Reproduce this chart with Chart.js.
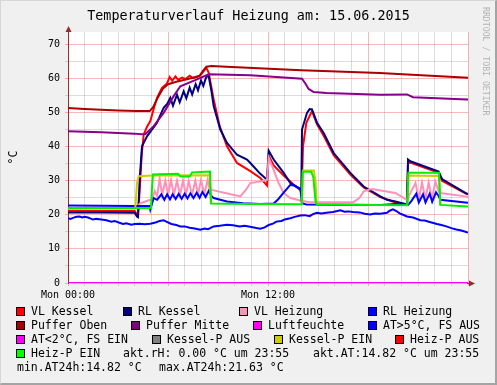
<!DOCTYPE html>
<html><head><meta charset="utf-8">
<script src="https://cdn.jsdelivr.net/npm/chart.js@4.4.1/dist/chart.umd.min.js"></script>
<style>
html,body{margin:0;padding:0;}
body{width:497px;height:385px;overflow:hidden;background:#f0f0f0;position:relative;font-family:"DejaVu Sans Mono",monospace;}
#frame{position:absolute;left:0;top:0;width:497px;height:385px;box-sizing:border-box;border-top:1px solid #d6d6d6;border-left:1px solid #d6d6d6;border-right:2px solid #a4a4a4;border-bottom:2px solid #a4a4a4;pointer-events:none;}
canvas{position:absolute;left:0;top:0;}
.t{position:absolute;font-size:11.5px;line-height:12px;white-space:pre;color:#000;}
.b{position:absolute;width:7px;height:7px;border:1px solid #000;}
#title{position:absolute;left:0;width:497px;top:9px;text-align:center;font-size:13.4px;line-height:14px;white-space:pre;color:#000;}
#credit{position:absolute;left:481px;top:7px;writing-mode:vertical-rl;font-size:8.2px;line-height:9px;color:#b4b4b4;white-space:pre;}
</style>
</head><body>
<canvas id="c" width="497" height="385"></canvas>
<div id="title">Temperaturverlauf Heizung am: 15.06.2015</div>
<div id="credit">RRDTOOL / TOBI OETIKER</div>

<div class="b" style="left:16px;top:307px;background:#ff0000"></div><div class="t" style="left:31px;top:305px">VL Kessel</div>
<div class="b" style="left:123px;top:307px;background:#000080"></div><div class="t" style="left:138px;top:305px">RL Kessel</div>
<div class="b" style="left:239px;top:307px;background:#ff90b8"></div><div class="t" style="left:254px;top:305px">VL Heizung</div>
<div class="b" style="left:368px;top:307px;background:#0000ff"></div><div class="t" style="left:383px;top:305px">RL Heizung</div>

<div class="b" style="left:16px;top:321px;background:#aa0000"></div><div class="t" style="left:31px;top:319px">Puffer Oben</div>
<div class="b" style="left:131px;top:321px;background:#800080"></div><div class="t" style="left:146px;top:319px">Puffer Mitte</div>
<div class="b" style="left:253px;top:321px;background:#ff00ff"></div><div class="t" style="left:268px;top:319px">Luftfeuchte</div>
<div class="b" style="left:368px;top:321px;background:#0000ff"></div><div class="t" style="left:383px;top:319px">AT&gt;5°C, FS AUS</div>

<div class="b" style="left:16px;top:335px;background:#ff00ff"></div><div class="t" style="left:31px;top:333px">AT&lt;2°C, FS EIN</div>
<div class="b" style="left:152px;top:335px;background:#808080"></div><div class="t" style="left:167px;top:333px">Kessel-P AUS</div>
<div class="b" style="left:274px;top:335px;background:#cccc00"></div><div class="t" style="left:289px;top:333px">Kessel-P EIN</div>
<div class="b" style="left:395px;top:335px;background:#ff0000"></div><div class="t" style="left:410px;top:333px">Heiz-P AUS</div>

<div class="b" style="left:16px;top:349px;background:#00ff00"></div><div class="t" style="left:31px;top:347px">Heiz-P EIN</div>
<div class="t" style="left:123px;top:347px">akt.rH: 0.00 °C um 23:55</div>
<div class="t" style="left:313px;top:347px">akt.AT:14.82 °C um 23:55</div>

<div class="t" style="left:17px;top:361px">min.AT24h:14.82 °C</div>
<div class="t" style="left:159px;top:361px">max.AT24h:21.63 °C</div>

<div id="frame"></div>
<script>
// ---- DATA (time in hours of the day, value in °C) ----
const xTickHours = [0, 12];
const xTickLabels = ['Mon 00:00', 'Mon 12:00'];
const yTickValues = [0, 10, 20, 30, 40, 50, 60, 70];

const vlKessel = [[0,21.2],[2,21.1],[4.0,21.1],[4.1,20.4],[4.2,19.9],[4.3,27.0],[4.42,37.5],[4.54,43.5],[4.74,45.8],[4.94,47.5],[5.14,51.0],[5.34,54.3],[5.64,57.2],[5.94,58.5],[6.1,60.4],[6.25,59.3],[6.45,60.6],[6.6,59.6],[6.85,60.2],[7.05,59.8],[7.3,60.8],[7.5,60.1],[7.75,60.4],[7.95,60.9],[8.14,62.1],[8.3,63.1],[8.44,61.7],[8.6,57.5],[8.74,53.8],[9.1,46.0],[9.54,40.1],[10.14,35.2],[10.94,32.8],[11.54,30.8],[11.94,28.6],[12.04,37.4],[12.34,34.5],[12.94,31.5],[13.5,29.0],[13.94,27.2],[14.02,27.0],[14.1,40.0],[14.3,47.0],[14.64,50.4],[14.94,46.5],[15.34,43.2],[15.94,37.5],[16.94,31.8],[17.74,28.0],[18.74,25.2],[19.64,23.6],[20.34,23.0],[20.4,35.0],[20.54,35.3],[22.24,32.3],[22.44,30.0],[23.84,26.3],[24,26.1]];

const rlKessel = [[0,20.7],[2,20.7],[4.0,20.6],[4.14,19.5],[4.2,19.3],[4.3,30.3],[4.44,40.1],[4.74,43.0],[5.34,47.0],[5.74,51.4],[5.95,52.5],[6.14,54.3],[6.3,52.0],[6.54,55.2],[6.7,53.0],[6.94,56.2],[7.1,54.2],[7.3,57.3],[7.45,55.3],[7.66,58.3],[7.8,56.5],[7.98,59.4],[8.12,57.8],[8.3,60.5],[8.44,60.7],[8.6,56.5],[8.74,51.9],[9.14,45.0],[9.54,41.1],[10.14,37.6],[10.74,36.2],[10.94,35.2],[11.54,32.0],[11.94,30.3],[12.04,38.8],[12.34,36.2],[12.94,32.3],[13.34,29.3],[13.94,27.6],[14.0,27.4],[14.04,45.0],[14.34,49.9],[14.5,51.0],[14.64,50.9],[14.94,47.0],[15.34,44.0],[15.94,38.1],[16.94,32.3],[17.74,28.3],[18.74,25.4],[19.14,24.4],[19.64,23.9],[20.34,23.0],[20.4,36.2],[20.54,35.7],[22.24,32.7],[22.44,30.5],[23.84,26.4],[24,26.0]];

const vlHeizung = [[0,21.8],[4.0,21.8],[4.34,23.4],[4.94,24.4],[5.04,24.4],[5.2,27.0],[5.35,25.5],[5.5,30.6],[5.65,25.8],[5.84,30.0],[6.0,25.8],[6.18,30.2],[6.35,25.8],[6.54,30.0],[6.72,25.8],[6.9,30.0],[7.07,25.8],[7.24,30.0],[7.44,25.8],[7.64,30.0],[7.8,25.9],[7.98,30.2],[8.18,26.0],[8.38,30.3],[8.5,27.5],[8.6,27.3],[9.5,26.3],[10.34,25.4],[10.7,27.5],[10.94,29.3],[11.54,29.8],[11.94,30.2],[12.04,36.7],[12.34,33.2],[12.64,29.3],[12.94,26.4],[13.34,24.9],[13.94,24.2],[14.5,23.7],[17.12,23.7],[17.5,25.0],[17.74,26.9],[18.14,27.5],[18.34,27.5],[19.64,26.4],[20.34,24.4],[20.5,26.0],[20.85,29.3],[21.05,24.6],[21.24,29.5],[21.44,24.6],[21.64,29.5],[21.84,24.6],[22.04,29.8],[22.24,26.9],[22.34,26.4],[23.84,25.4],[24,25.2]];

const rlHeizung = [[0,22.7],[4.0,22.6],[4.9,22.6],[4.94,21.5],[5.14,24.9],[5.35,24.4],[5.6,26.0],[5.78,24.4],[5.95,26.0],[6.12,24.5],[6.28,26.0],[6.46,24.6],[6.64,26.1],[6.82,24.7],[7.0,26.2],[7.17,24.8],[7.34,26.3],[7.53,24.9],[7.72,26.5],[7.9,25.0],[8.06,26.7],[8.26,25.2],[8.44,27.0],[8.6,25.5],[8.74,24.9],[9.54,23.9],[10.5,23.4],[11.54,23.2],[12.34,23.3],[12.6,24.5],[12.94,26.5],[13.34,28.8],[13.6,28.5],[13.94,27.5],[14.04,23.4],[14.3,23.0],[18.74,22.9],[19.64,23.2],[20.4,22.9],[20.6,24.0],[20.9,26.2],[21.05,23.6],[21.3,26.0],[21.45,23.6],[21.7,26.2],[21.85,23.8],[22.08,26.6],[22.24,25.5],[22.34,24.4],[23.84,23.6],[24,23.5]];

const pufferOben = [[0,51.3],[1,51.0],[2,50.8],[3,50.6],[4.1,50.4],[4.9,50.4],[5.1,51.5],[5.4,54.5],[5.7,57.0],[6.0,58.3],[6.5,59.0],[7.0,59.6],[7.5,60.2],[7.9,60.8],[8.1,62.2],[8.3,63.4],[8.6,63.6],[9.5,63.4],[14,62.4],[18.7,61.6],[24,60.2]];

const pufferMitte = [[0,44.5],[2,44.2],[4.0,43.8],[4.4,43.6],[4.65,43.7],[5.14,46.0],[5.74,49.9],[6.34,54.8],[6.74,57.7],[7.74,59.7],[8.44,61.2],[10.94,60.9],[14.04,59.9],[14.24,58.5],[14.44,56.9],[14.74,56.0],[15.5,55.7],[18.74,55.2],[20.34,55.3],[20.7,54.5],[23.94,53.8],[24,53.8]];

const luftfeuchte = [[0,0],[24,0]];

const aussenTemp = [[0,19.0],[0.15,18.8],[0.3,19.1],[0.5,19.4],[0.7,19.5],[0.85,19.2],[1.0,19.4],[1.2,19.2],[1.5,18.6],[1.7,18.8],[2.0,18.6],[2.3,18.4],[2.6,18.0],[2.8,18.2],[3.0,17.8],[3.3,17.3],[3.5,17.5],[3.8,17.1],[4.0,17.3],[4.3,17.4],[4.6,17.2],[4.94,17.4],[5.3,17.8],[5.5,18.2],[5.74,18.4],[5.9,18.0],[6.2,17.3],[6.5,17.0],[6.74,16.6],[7.0,16.6],[7.3,16.2],[7.6,16.0],[7.94,15.6],[8.2,16.0],[8.4,15.8],[8.74,16.6],[9.1,16.8],[9.54,17.1],[9.9,16.9],[10.3,16.6],[10.6,16.8],[11.0,16.4],[11.3,16.1],[11.54,15.9],[11.8,16.3],[12.04,17.0],[12.3,17.4],[12.5,18.0],[12.8,18.2],[13.0,18.6],[13.34,19.0],[13.6,19.4],[13.94,19.8],[14.2,19.9],[14.5,19.6],[14.7,20.2],[14.94,20.6],[15.2,20.4],[15.5,20.6],[15.9,20.8],[16.34,21.3],[16.6,20.9],[16.8,21.0],[17.1,20.8],[17.5,20.7],[17.8,20.3],[18.14,20.1],[18.4,20.4],[18.74,20.3],[19.14,20.6],[19.3,21.2],[19.5,21.6],[19.7,21.1],[19.9,20.4],[20.1,20.0],[20.34,19.5],[20.7,19.2],[21.14,18.4],[21.4,18.3],[21.7,17.9],[22.14,17.3],[22.4,17.0],[22.7,16.6],[23.0,16.1],[23.3,15.7],[23.6,15.4],[23.94,14.9],[24,14.82]];

const kesselPEin = [[4.04,22.2],[4.14,29.3],[4.24,31.3],[5.04,31.5],[8.5,31.6],[8.58,23.3],[8.6,null],[14.04,23.1],[14.1,33.0],[14.75,33.0],[14.85,30.0],[14.92,23.2],[15,null],[20.36,22.8],[20.42,31.5],[22.26,31.4],[22.34,22.9]];

const heizPEin = [[0,22.0],[4.98,22.0],[5.04,28.0],[5.1,31.8],[6.6,32.0],[6.75,31.2],[7.3,31.2],[7.45,32.4],[8.52,32.7],[8.58,23.3],[11,23.2],[14.02,23.1],[14.08,32.6],[14.6,32.6],[14.72,31.0],[14.85,24.0],[14.92,23.1],[18,22.9],[20.36,22.8],[20.42,32.3],[22.26,32.3],[22.34,22.9],[24,22.4]];

// ---- CHART ----
const toXY = a => a.map(p => ({x: p[0], y: p[1]}));
const majorGrid = 'rgba(235,60,60,0.36)';
const minorGrid = 'rgba(140,140,140,0.30)';
const axisCol = '#a02828';

Chart.defaults.font.family = '"DejaVu Sans Mono", monospace';

const ds = (data, color) => ({data: toXY(data), borderColor: color, backgroundColor: color, borderWidth: 2, pointRadius: 0, tension: 0, fill: false, spanGaps: false});

const bgPlugin = {
  id: 'bg',
  beforeDraw(chart) {
    const {ctx, chartArea: a} = chart;
    ctx.save();
    ctx.fillStyle = '#ffffff';
    ctx.fillRect(a.left, a.top, a.right - a.left, a.bottom - a.top);
    ctx.restore();
  }
};
const arrowPlugin = {
  id: 'arrows',
  afterDraw(chart) {
    const {ctx, chartArea: a} = chart;
    ctx.save();
    ctx.strokeStyle = axisCol; ctx.fillStyle = axisCol; ctx.lineWidth = 1;
    const xl = Math.round(a.left) + 0.5;
    ctx.beginPath(); ctx.moveTo(xl, a.top + 2); ctx.lineTo(xl, a.top - 2); ctx.stroke();
    ctx.beginPath(); ctx.moveTo(xl, a.top - 6); ctx.lineTo(xl - 3, a.top + 0); ctx.lineTo(xl + 3, a.top + 0); ctx.closePath(); ctx.fill();
    const yb = Math.round(a.bottom) + 0.5;
    ctx.beginPath(); ctx.moveTo(a.right - 1, yb); ctx.lineTo(a.right + 2, yb); ctx.stroke();
    ctx.beginPath(); ctx.moveTo(a.right + 7, yb); ctx.lineTo(a.right + 1, yb - 3); ctx.lineTo(a.right + 1, yb + 3); ctx.closePath(); ctx.fill();
    ctx.restore();
  }
};

new Chart(document.getElementById('c'), {
  type: 'line',
  data: {
    datasets: [
      ds(heizPEin, '#00ee00'),
      ds(kesselPEin, '#cccc00'),
      ds(aussenTemp, '#0000ff'),
      ds(luftfeuchte, '#ff00ff'),
      ds(pufferMitte, '#880088'),
      ds(pufferOben, '#aa0000'),
      ds(rlHeizung, '#0000ff'),
      ds(vlHeizung, '#ff90b8'),
      ds(rlKessel, '#000080'),
      ds(vlKessel, '#ff0000')
    ]
  },
  options: {
    responsive: false, animation: false, devicePixelRatio: 1,
    layout: {padding: {left: 0, right: 29, top: 32, bottom: 0}},
    plugins: {legend: {display: false}, tooltip: {enabled: false}, title: {display: false}},
    scales: {
      x: {
        type: 'linear', min: 0, max: 24,
        afterFit(s) { s.height = 102; },
        ticks: {
          stepSize: 1, autoSkip: false, maxRotation: 0, minRotation: 0, includeBounds: false,
          color: '#000', font: {size: 10}, padding: 3,
          callback: v => { const i = xTickHours.indexOf(v); return i >= 0 ? xTickLabels[i] : ''; }
        },
        grid: {color: c => (c.tick && c.tick.value % 6 === 0) ? majorGrid : minorGrid, tickLength: 3},
        border: {display: false}
      },
      y: {
        min: 0, max: 73.6,
        afterFit(s) { s.width = 68; },
        ticks: {
          stepSize: 5, includeBounds: false, color: '#000', font: {size: 10}, padding: 5,
          callback: v => yTickValues.includes(v) ? String(v) : ''
        },
        grid: {color: c => (c.tick && c.tick.value % 10 === 0) ? majorGrid : minorGrid, tickLength: 3},
        border: {display: true, color: axisCol, width: 1},
        title: {display: true, text: '°C', color: '#000', font: {size: 11.5}, padding: {top: 7, bottom: 0}}
      }
    }
  },
  plugins: [bgPlugin, arrowPlugin]
});
</script>
</body></html>
